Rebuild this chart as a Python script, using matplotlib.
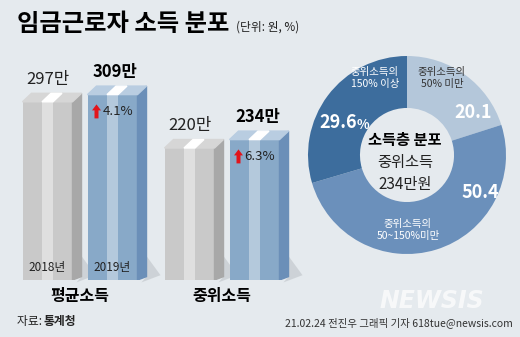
import matplotlib
matplotlib.use("Agg")
import matplotlib.pyplot as plt
from matplotlib.patches import Polygon

plt.rcParams['font.family'] = ['Noto Sans CJK KR', 'DejaVu Sans']

# data
groups = ["평균소득", "중위소득"]
years = ["2018년", "2019년"]
vals_2018 = [297, 220]
vals_2019 = [309, 234]
growth = ["4.1%", "6.3%"]

share_labels = ["중위소득의\n50% 미만", "중위소득의\n50~150%미만", "중위소득의\n150% 이상"]
share_vals = [20.1, 50.4, 29.6]
share_text = ["20.1", "50.4", "29.6"]

BG = "#e5eaee"
W, H = 520, 337

fig = plt.figure(figsize=(5.2, 3.37), dpi=100, facecolor=BG)

# pixel overlay for text
txt = fig.add_axes([0, 0, 1, 1])
txt.set_xlim(0, W)
txt.set_ylim(H, 0)
txt.axis("off")
txt.set_zorder(5)

# ---------- bars ----------
px_per_unit = 0.6
base_px = 280
ax = fig.add_axes([0, (H - base_px) / H, 300 / W, 200 / H])
ax.set_xlim(0, 300)
ax.set_ylim(0, 200 / px_per_unit)
ax.axis("off")

centers = [80, 222]
off = 32.5
bw = 50
dx = 9                    # depth in x (px == data units here)
dy = 8.5 / px_per_unit    # depth in y (data units)

gray = dict(front="#c9c9c9", stripe="#dfdfdf", side="#a8a8a8", top="#d6d6d6")
blue = dict(front="#88a9c8", stripe="#b4c9dc", side="#6b8fb8", top="#b9cde1")


def bar3d(xc, v, c):
    b = ax.bar(xc, v, width=bw, color=c["front"], zorder=3)[0]
    x0 = b.get_x()
    x1 = x0 + b.get_width()
    ax.bar(xc, v, width=11, color=c["stripe"], zorder=4)
    # side
    ax.add_patch(Polygon([(x1, 0), (x1 + dx, dy * 0.4), (x1 + dx, v + dy), (x1, v)],
                         closed=True, color=c["side"], zorder=3))
    # top
    ax.add_patch(Polygon([(x0, v), (x1, v), (x1 + dx, v + dy), (x0 + dx, v + dy)],
                         closed=True, color=c["top"], zorder=3))
    ax.add_patch(Polygon([(xc - 5.5, v), (xc + 5.5, v), (xc + 5.5 + dx, v + dy), (xc - 5.5 + dx, v + dy)],
                         closed=True, color="white", zorder=4))
    # floor shadow
    ax.add_patch(Polygon([(x1 + dx, dy * 0.4), (x1 + dx, 40), (x1 + dx + 14, 8), (x1 + 4, -4)],
                         closed=True, color="#a3a8ad", alpha=0.35, lw=0, zorder=2, clip_on=False))
    return x0, x1


def red_arrow(x, y):
    # x in px, y in data units; sizes converted from px
    k = 1 / px_per_unit
    pts = [(x - 2, y - 7 * k), (x + 2, y - 7 * k), (x + 2, y + 1 * k), (x + 4.5, y + 1 * k),
           (x, y + 7 * k), (x - 4.5, y + 1 * k), (x - 2, y + 1 * k)]
    ax.add_patch(Polygon(pts, closed=True, color="#e2141b", lw=0, zorder=6))


for i, g in enumerate(groups):
    v0, v1 = vals_2018[i], vals_2019[i]
    bar3d(centers[i] - off, v0, gray)
    bar3d(centers[i] + off, v1, blue)
    ax.text(centers[i] - off, v0 + 37, f"{v0}만", ha="center", va="center",
            fontsize=12, color="#222222", zorder=6)
    ax.text(centers[i] + off + 3, v1 + 37, f"{v1}만", ha="center", va="center",
            fontsize=12, fontweight="bold", color="black", zorder=6)
    # red arrow + growth
    ya = v1 - 28
    red_arrow(centers[i] + off - 16, ya)
    ax.text(centers[i] + off - 10, ya, growth[i], ha="left", va="center",
            fontsize=9.5, color="#222222", zorder=6)
    txt.text(centers[i], 296, g, ha="center", va="center", fontsize=11.5,
             fontweight="bold", color="black")

ax.text(centers[0] - off, 20, years[0], ha="center", va="center", fontsize=8.5, color="#222222", zorder=6)
ax.text(centers[0] + off, 20, years[1], ha="center", va="center", fontsize=8.5, color="#222222", zorder=6)

# ---------- donut ----------
cx, cy, r = 407, 155, 99
pa = fig.add_axes([(cx - r) / W, (H - cy - r) / H, 2 * r / W, 2 * r / H])
pa.pie(share_vals, startangle=90, counterclock=False,
       colors=["#b4c7da", "#6b90bb", "#3d6d9d"],
       wedgeprops=dict(width=0.525, linewidth=0))
pa.set_xlim(-1, 1)
pa.set_ylim(-1, 1)
pa.set_aspect("equal")
pa.axis("off")

txt.text(442, 78, share_labels[0], ha="center", va="center", fontsize=7.5,
         color="#333333", linespacing=1.25)
txt.text(375, 78, share_labels[2], ha="center", va="center", fontsize=7.5,
         color="white", linespacing=1.25)
txt.text(408, 230, share_labels[1], ha="center", va="center", fontsize=7.5,
         color="white", linespacing=1.25)
txt.text(473, 113, share_text[0], ha="center", va="center", fontsize=13,
         fontweight="bold", color="white")
txt.text(480, 192, share_text[1], ha="center", va="center", fontsize=13,
         fontweight="bold", color="white")
txt.text(338, 123, share_text[2], ha="center", va="center", fontsize=13,
         fontweight="bold", color="white")
txt.text(357, 125, "%", ha="left", va="center", fontsize=9.5,
         fontweight="bold", color="white")
txt.text(405, 140, "소득층 분포", ha="center", va="center", fontsize=11,
         fontweight="bold", color="black")
txt.text(405, 162, "중위소득", ha="center", va="center", fontsize=11, color="#222222")
txt.text(405, 184, "234만원", ha="center", va="center", fontsize=11, color="#222222")

# ---------- titles / footer ----------
txt.text(17, 24, "임금근로자 소득 분포", ha="left", va="center", fontsize=17.5,
         fontweight="bold", color="black")
txt.text(236, 27, "(단위: 원, %)", ha="left", va="center", fontsize=8.5, color="#222222")

txt.text(17, 321, "자료: ", ha="left", va="center", fontsize=8.5, color="#222222")
txt.text(44, 321, "통계청", ha="left", va="center", fontsize=8.5, fontweight="bold", color="#222222")
txt.text(513, 323, "21.02.24 전진우 그래픽 기자 618tue@newsis.com", ha="right", va="center",
         fontsize=7.5, color="#333333")
txt.text(432, 301, "NEWSIS", ha="center", va="center", fontsize=17, fontweight="bold",
         style="italic", color="white", alpha=0.7, family="DejaVu Sans")

fig.savefig("out.png", dpi=100, facecolor=BG)
